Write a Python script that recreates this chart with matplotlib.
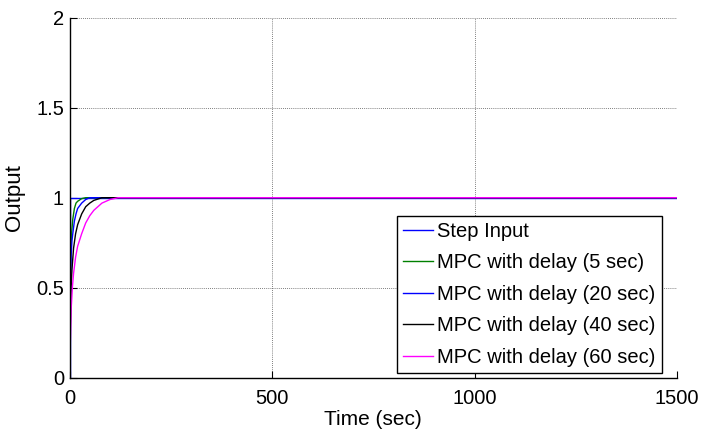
import matplotlib
matplotlib.use("Agg")
import matplotlib.pyplot as plt

plt.rcParams['font.family'] = ['Liberation Sans', 'DejaVu Sans']

# step input
t_step = [0, 0, 1500]
y_step = [0, 1, 1]

# MPC responses for each delay
t_5 = [0, 1, 2, 3, 5, 8, 12, 16, 20, 30, 40, 1500]
y_5 = [0, 0.4, 0.6, 0.7, 0.8, 0.88, 0.94, 0.97, 0.98, 0.995, 1.0, 1.0]

t_20 = [0, 1, 2, 4, 6, 8, 12, 16, 20, 30, 40, 50, 1500]
y_20 = [0, 0.3, 0.5, 0.68, 0.76, 0.8, 0.87, 0.91, 0.94, 0.97, 0.99, 1.0, 1.0]

t_40 = [0, 2, 4, 6, 10, 15, 20, 30, 40, 50, 60, 80, 1500]
y_40 = [0, 0.3, 0.5, 0.6, 0.72, 0.8, 0.85, 0.91, 0.95, 0.97, 0.985, 1.0, 1.0]

t_60 = [0, 2, 4, 7, 10, 15, 20, 30, 40, 50, 60, 80, 100, 120, 1500]
y_60 = [0, 0.2, 0.38, 0.5, 0.58, 0.67, 0.73, 0.8, 0.86, 0.9, 0.93, 0.97, 0.99, 1.0, 1.0]

x_ticks = [0, 500, 1000, 1500]
y_ticks = [0, 0.5, 1, 1.5, 2]
y_tick_labels = ["0", "0.5", "1", "1.5", "2"]

fig = plt.figure(figsize=(7.03, 4.36), dpi=100)
ax = fig.add_axes([0.0989, 0.1337, 0.9630 - 0.0989, 0.9594 - 0.1337])

ax.plot(t_step, y_step, color=(0, 0, 1), lw=1, label="Step Input")
ax.plot(t_5, y_5, color=(0, 0.5, 0), lw=1, label="MPC with delay (5 sec)")
ax.plot(t_20, y_20, color=(0, 0, 1), lw=1, label="MPC with delay (20 sec)")
ax.plot(t_40, y_40, color="black", lw=1, label="MPC with delay (40 sec)")
ax.plot(t_60, y_60, color=(1, 0, 1), lw=1, label="MPC with delay (60 sec)")

ax.set_xlim(0, 1500)
ax.set_ylim(0, 2)
ax.set_xticks(x_ticks)
ax.set_yticks(y_ticks)
ax.set_yticklabels(y_tick_labels)
ax.tick_params(direction="in", length=5, labelsize=14.5)
ax.tick_params(axis="x", pad=8)
ax.tick_params(axis="y", pad=4)
ax.grid(True, color="#555555", linestyle=(0, (1, 1.5)), lw=0.6)

for side in ["top", "right"]:
    ax.spines[side].set_visible(False)
for side in ["left", "bottom"]:
    ax.spines[side].set_linewidth(1)

ax.set_xlabel("Time (sec)", fontsize=15)
ax.set_ylabel("Output", fontsize=16)
ax.xaxis.set_label_coords(0.5, -0.09)
ax.yaxis.set_label_coords(-0.074, 0.5)

leg = ax.legend(loc="lower right", bbox_to_anchor=(0.975, 0.014), borderaxespad=0,
                fontsize=14.5, frameon=True, fancybox=False, framealpha=1,
                edgecolor="black", handlelength=1.5, handletextpad=0.2,
                labelspacing=0.62, borderpad=0.3)
leg.get_frame().set_linewidth(1)

fig.savefig("out.png", dpi=100)
